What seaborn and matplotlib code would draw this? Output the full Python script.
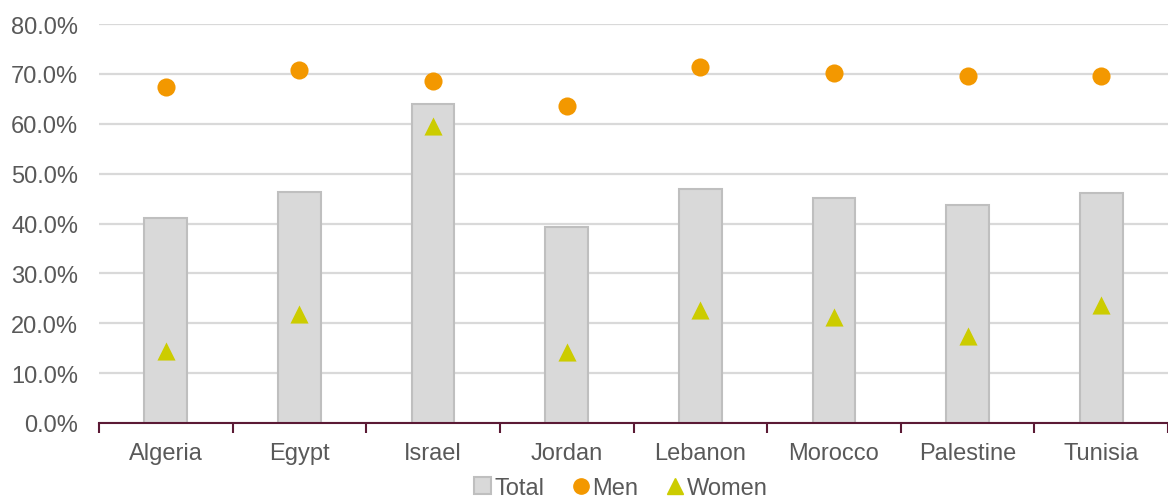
import matplotlib
matplotlib.use("Agg")
import matplotlib.pyplot as plt
import seaborn as sns
import pandas as pd
import numpy as np
from matplotlib.lines import Line2D
from matplotlib.patches import Patch
from matplotlib.ticker import PercentFormatter, FixedLocator

countries = ["Algeria", "Egypt", "Israel", "Jordan", "Lebanon", "Morocco", "Palestine", "Tunisia"]
total = [41.1, 46.3, 63.9, 39.2, 46.9, 45.2, 43.8, 46.1]
men = [67.4, 70.8, 68.6, 63.6, 71.4, 70.2, 69.5, 69.5]
women = [14.5, 21.9, 59.5, 14.3, 22.7, 21.3, 17.5, 23.6]

df = pd.DataFrame({"country": countries, "Total": total, "Men": men, "Women": women})

sns.set_theme(style="white")
plt.rcParams["font.family"] = ["Liberation Sans", "DejaVu Sans"]

text_color = "#595959"
bar_fill = "#d9d9d9"
bar_edge = "#bfbfbf"
men_color = "#f39800"
women_color = "#cccc00"
axis_color = "#5b1a35"
font_size = 17

fig = plt.figure(figsize=(11.68, 5.02), dpi=100)
ax = fig.add_axes([99 / 1168, 1 - 424 / 502, 1 - 99 / 1168, 399 / 502])

sns.barplot(data=df, x="country", y="Total", color=bar_fill, width=0.32,
            edgecolor=bar_edge, linewidth=1.5, saturation=1, ax=ax, zorder=2)
sns.scatterplot(data=df, x="country", y="Men", color=men_color, marker="o",
                s=170, linewidth=0, ax=ax, zorder=3)
sns.scatterplot(data=df, x="country", y="Women", color=women_color, marker="^",
                s=170, linewidth=0, ax=ax, zorder=3)

ax.set_xlim(-0.5, len(countries) - 0.5)
ax.set_ylim(0, 80)
ax.set_yticks(np.arange(0, 81, 10))
ax.yaxis.set_major_formatter(PercentFormatter(decimals=1))
ax.yaxis.grid(True, color="#d9d9d9", linewidth=1.6, zorder=0)
ax.set_axisbelow(True)
ax.set_xlabel("")
ax.set_ylabel("")

for side in ["top", "right", "left"]:
    ax.spines[side].set_visible(False)
ax.spines["bottom"].set_color(axis_color)
ax.spines["bottom"].set_linewidth(1.5)

ax.tick_params(axis="x", which="major", length=0, pad=14, labelsize=font_size, labelcolor=text_color)
ax.xaxis.set_minor_locator(FixedLocator(np.arange(-0.5, len(countries), 1.0)))
ax.tick_params(axis="x", which="minor", direction="out", length=7, width=1.5, color=axis_color, bottom=True)
ax.tick_params(axis="y", length=0, pad=15, labelsize=font_size, labelcolor=text_color)

handles = [
    Patch(facecolor=bar_fill, edgecolor=bar_edge, linewidth=1.5, label="Total"),
    Line2D([], [], linestyle="none", marker="o", markersize=11, color=men_color, label="Men"),
    Line2D([], [], linestyle="none", marker="^", markersize=11, color=women_color, label="Women"),
]
fig.legend(handles=handles, loc="center", bbox_to_anchor=(621 / 1168, 1 - 489 / 502),
           ncol=3, frameon=False, fontsize=font_size, labelcolor=text_color,
           handlelength=0.7, handleheight=0.7, handletextpad=0.15, columnspacing=1.2,
           borderpad=0.1)

fig.savefig("out.png", dpi=100)
